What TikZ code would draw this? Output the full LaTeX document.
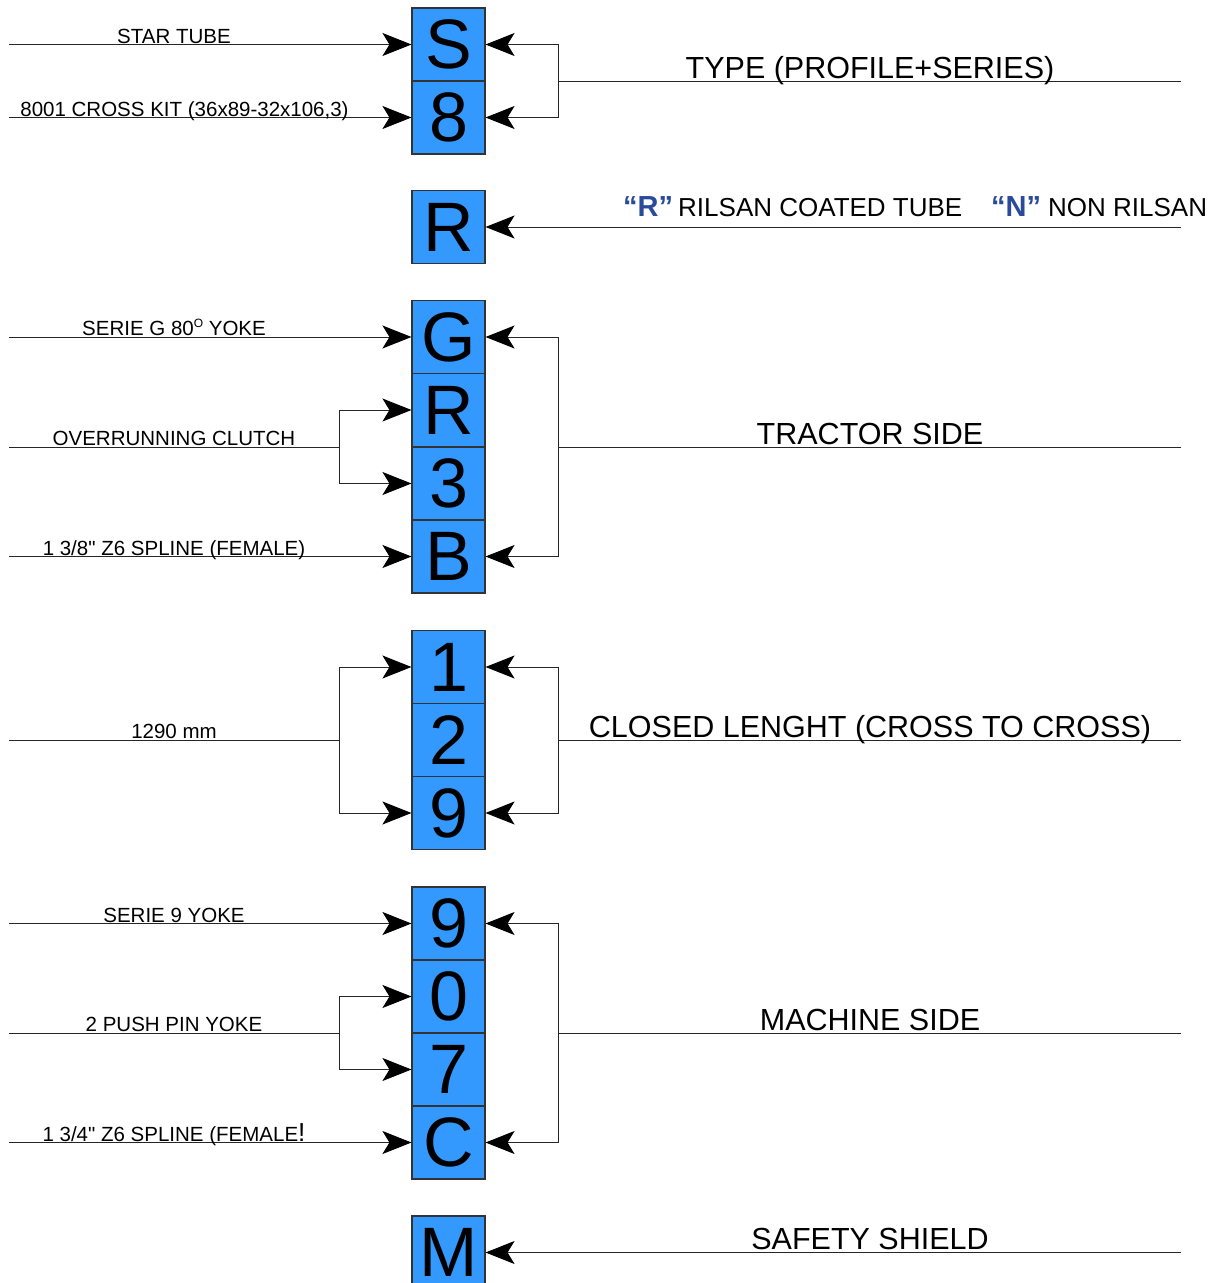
\documentclass[tikz,border=0pt]{standalone}
\usepackage{fontspec}
\setmainfont{Liberation Sans}[Ligatures=TeXOff]
\usetikzlibrary{arrows.meta}
\definecolor{boxblue}{RGB}{51,153,255}
\definecolor{qblue}{RGB}{42,74,155}
\begin{document}
\begin{tikzpicture}[x=1pt,y=-1pt,
  cell/.style={draw=black!80, line width=1.1pt, fill=boxblue, minimum width=73pt, minimum height=73pt, inner sep=0pt, font=\fontsize{70}{70}\selectfont},
  arr/.style={line width=1pt, draw=black!85, -{Stealth[length=29pt,width=23pt,inset=7pt,black]}},
  ln/.style={line width=1pt, draw=black!85},
  llab/.style={anchor=base, inner sep=0pt, font=\fontsize{20.5}{20.5}\selectfont},
  rlab/.style={anchor=base, inner sep=0pt, font=\fontsize{30.5}{30.5}\selectfont},
  qlab/.style={anchor=base west, inner sep=0pt, text=qblue, font=\fontsize{29}{29}\selectfont\bfseries},
  rilab/.style={anchor=base west, inner sep=0pt, font=\fontsize{26}{26}\selectfont},
]
\clip (0,0) rectangle (1214,1283);
\fill[white] (0,0) rectangle (1214,1283);

% cells
\node[cell] (cS) at (448.5,44.5) {S};
\node[cell] (c8) at (448.5,117.5) {8};
\node[cell] (cR) at (448.5,227) {R};
\node[cell] (cG) at (448.5,337) {G};
\node[cell] (cR2) at (448.5,410) {R};
\node[cell] (c3) at (448.5,483.5) {3};
\node[cell] (cB) at (448.5,556.5) {B};
\node[cell] (c1) at (448.5,667) {1};
\node[cell] (c2) at (448.5,740) {2};
\node[cell] (c9) at (448.5,813) {9};
\node[cell] (m9) at (448.5,923.5) {9};
\node[cell] (m0) at (448.5,996.5) {0};
\node[cell] (m7) at (448.5,1069.5) {7};
\node[cell] (mC) at (448.5,1142.5) {C};
\node[cell] (cM) at (448.5,1252.5) {M};

% ---- TYPE ----
\coordinate (aS) at (9,44.5);
\coordinate (a8) at (9,117.5);
\draw[arr] (aS) -- (cS.west);
\draw[arr] (a8) -- (c8.west);
\node[llab] (tS) at (174,43) {STAR TUBE};
\node[llab] (t8) at (184.5,116) {8001 CROSS KIT (36x89-32x106,3)};
\coordinate (j1) at (558,81);
\coordinate (e1) at (1181,81);
\draw[arr] (j1) |- (cS.east);
\draw[arr] (j1) |- (c8.east);
\draw[ln] (j1) -- (e1);
\node[rlab] (t1) at (870,78) {TYPE (PROFILE+SERIES)};

% ---- RILSAN ----
\coordinate (e2) at (1181,227);
\draw[arr] (e2) -- (cR.east);
\node[qlab] (qR) at (623,216) {“R”};
\node[rilab] (tR) at (678,216) {RILSAN COATED TUBE};
\node[qlab] (qN) at (991,216) {“N”};
\node[rilab] (tN) at (1048,216) {NON RILSAN};

% ---- TRACTOR SIDE ----
\coordinate (aG) at (9,337);
\coordinate (aB) at (9,556.5);
\coordinate (a2) at (9,447);
\coordinate (k2) at (339,447);
\draw[arr] (aG) -- (cG.west);
\draw[arr] (a2) -- (k2) |- (cR2.west);
\draw[arr] (k2) |- (c3.west);
\draw[arr] (aB) -- (cB.west);
\node[llab] (tG) at (174,335.5) {SERIE G 80{\fontsize{12}{12}\selectfont\raisebox{8pt}{O}} YOKE};
\node[llab] (tOC) at (174,445.5) {OVERRUNNING CLUTCH};
\node[llab] (tB) at (174,555) {1 3/8" Z6 SPLINE (FEMALE)};
\coordinate (j2) at (558,447);
\coordinate (e3) at (1181,447);
\draw[arr] (j2) |- (cG.east);
\draw[arr] (j2) |- (cB.east);
\draw[ln] (j2) -- (e3);
\node[rlab] (t2) at (870,444) {TRACTOR SIDE};

% ---- CLOSED LENGTH ----
\coordinate (a3) at (9,740);
\coordinate (k3) at (339,740);
\draw[arr] (a3) -- (k3) |- (c1.west);
\draw[arr] (k3) |- (c9.west);
\node[llab] (tL) at (174,738.5) {1290 mm};
\coordinate (j3) at (558,740);
\coordinate (e4) at (1181,740);
\draw[arr] (j3) |- (c1.east);
\draw[arr] (j3) |- (c9.east);
\draw[ln] (j3) -- (e4);
\node[rlab] (t3) at (870,737) {CLOSED LENGHT (CROSS TO CROSS)};

% ---- MACHINE SIDE ----
\coordinate (b9) at (9,923.5);
\coordinate (a4) at (9,1033);
\coordinate (k4) at (339,1033);
\coordinate (bC) at (9,1142.5);
\draw[arr] (b9) -- (m9.west);
\draw[arr] (a4) -- (k4) |- (m0.west);
\draw[arr] (k4) |- (m7.west);
\draw[arr] (bC) -- (mC.west);
\node[llab] (t9) at (174,922) {SERIE 9 YOKE};
\node[llab] (tP) at (174,1031.5) {2 PUSH PIN YOKE};
\node[llab] (tC) at (174,1141) {1 3/4" Z6 SPLINE (FEMALE{\fontsize{26}{26}\selectfont !}};
\coordinate (j4) at (558,1033);
\coordinate (e5) at (1181,1033);
\draw[arr] (j4) |- (m9.east);
\draw[arr] (j4) |- (mC.east);
\draw[ln] (j4) -- (e5);
\node[rlab] (t4) at (870,1030) {MACHINE SIDE};

% ---- SAFETY SHIELD ----
\coordinate (e6) at (1181,1252.5);
\draw[arr] (e6) -- (cM.east);
\node[rlab] (t5) at (870,1249.5) {SAFETY SHIELD};
\end{tikzpicture}
\end{document}
